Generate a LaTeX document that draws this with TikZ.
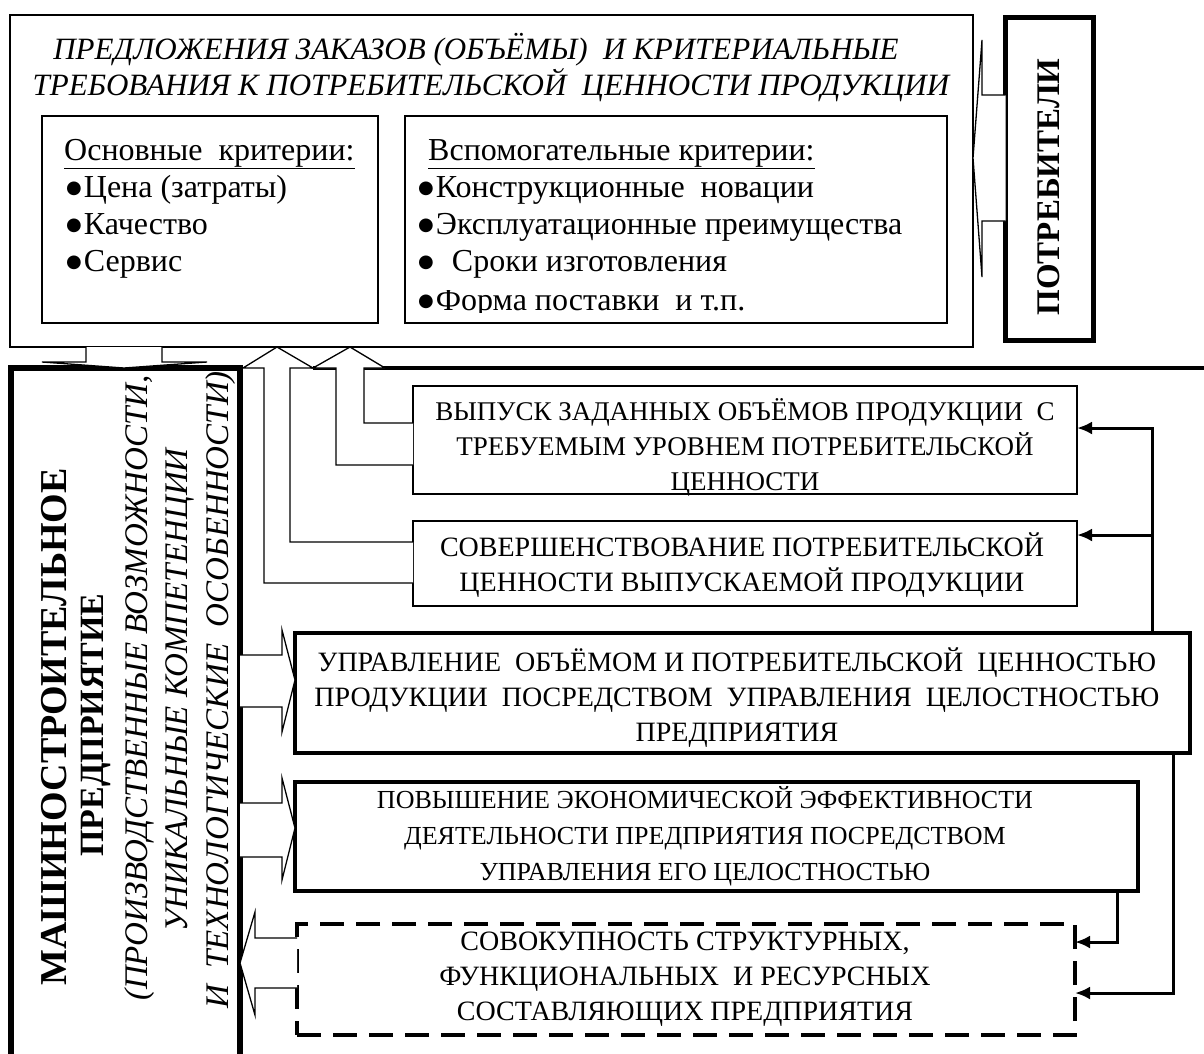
\documentclass[tikz,border=0pt]{standalone}
\usepackage{fontspec}
\setmainfont{Liberation Serif}
\newfontfamily\dejavu{DejaVu Sans}
\newcommand{\bul}{\raisebox{4pt}{\dejavu\fontsize{18}{0}\selectfont ●}\hspace{2pt}}
\usetikzlibrary{arrows.meta,calc}
\begin{document}
\begin{tikzpicture}[x=1pt,y=-1pt,
  thinbox/.style={draw, line width=1.3pt, inner sep=0pt, outer sep=0pt},
  thickbox/.style={draw, line width=4pt, inner sep=0pt, outer sep=0pt},
  dashbox/.style={draw, line width=4pt, inner sep=0pt, outer sep=0pt, dash pattern=on 24pt off 12pt},
  hollow/.style={draw, line width=1.3pt, fill=white, line join=miter},
  frame/.style={line width=4.5pt},
  conn/.style={line width=3pt, -{Latex[length=15pt,width=13pt]}},
  txt/.style={font=\fontsize{28}{35}\selectfont, align=center, inner sep=0pt},
  ltxt/.style={font=\fontsize{32}{37}\selectfont, anchor=base west, inner sep=0pt},
  vtxt/.style={rotate=90, inner sep=0pt}
]
\useasboundingbox (0,0) rectangle (1204,1053);
\fill[white] (0,0) rectangle (1204,1053);

% boxes
\node[thinbox, minimum width=963pt, minimum height=332pt] (top) at (491.5,181) {};
\node[thinbox, minimum width=336pt, minimum height=207pt] (crit1) at (210,219.5) {};
\node[thinbox, minimum width=542pt, minimum height=207pt] (crit2) at (676,219.5) {};
\node[draw, line width=5pt, inner sep=0pt, outer sep=0pt, minimum width=88pt, minimum height=323pt] (cons) at (1049.5,179) {};
\node[draw, line width=6pt, inner sep=0pt, outer sep=0pt, minimum width=229pt, minimum height=707pt] (ent) at (125.5,721.5) {};
\node[thinbox, minimum width=664pt, minimum height=108pt] (b1) at (745,440) {};
\node[thinbox, minimum width=664pt, minimum height=85pt] (b2) at (745,563.5) {};
\node[thickbox, minimum width=895pt, minimum height=120pt] (b3) at (742.5,693) {};
\node[thickbox, minimum width=843pt, minimum height=109pt] (b4) at (716.5,836.5) {};
\node[dashbox, minimum width=778pt, minimum height=111pt] (b5) at (686,979.5) {};

% frame line
\draw[frame] (313,368) -- (336,368);
\draw[frame] (364,368) -- (1204,368);

% hollow arrows
\draw[hollow] (cons.west |- 0,95) -- (982,95) -- (982,40) -- (top.east |- 0,158) -- (982,277) -- (982,221) -- (cons.west |- 0,221);
\draw[hollow] (top.south -| 86,0) -- (86,362) -- (42,362) -- (ent.north -| 124,0) -- (207,362) -- (162,362) -- (top.south -| 162,0);
\draw[hollow] (b2.west |- 0,583) -- (264,583) -- (264,368) -- (243,368) -- (top.south -| 277,0) -- (313,368) -- (290,368) -- (290,542) -- (b2.west |- 0,542);
\draw[hollow] (b1.west |- 0,465) -- (336,465) -- (336,368) -- (313,368) -- (top.south -| 350,0) -- (385,368) -- (364,368) -- (364,423) -- (b1.west |- 0,423);
\draw[hollow] (ent.east |- 0,655) -- (282,655) -- (282,630) -- (b3.west |- 0,680) -- (282,732) -- (282,707) -- (ent.east |- 0,707);
\draw[hollow] (ent.east |- 0,803) -- (282,803) -- (282,778) -- (b4.west |- 0,828) -- (282,880) -- (282,857) -- (ent.east |- 0,857);
\draw[hollow] (b5.west |- 0,938) -- (255,938) -- (255,912) -- (ent.east |- 0,963) -- (255,1015) -- (255,988) -- (b5.west |- 0,988);

% right connectors
\coordinate (j) at (1152,535);
\draw[conn] (b3.north -| j) |- (b1.east |- 0,428);
\draw[conn] (j) -- (b2.east |- j);
\draw[conn] (b3.south -| 1173,0) |- (b5.east |- 0,993);
\draw[conn] (b4.south -| 1117,0) |- (b5.east |- 0,942);

% texts top
\node[txt, font=\fontsize{31}{35}\selectfont\itshape] (t1) at (476,50) {ПРЕДЛОЖЕНИЯ ЗАКАЗОВ (ОБЪЁМЫ)\ \ И КРИТЕРИАЛЬНЫЕ};
\node[txt, font=\fontsize{31}{35}\selectfont\itshape] (t2) at (491,85) {ТРЕБОВАНИЯ К ПОТРЕБИТЕЛЬСКОЙ\ \ ЦЕННОСТИ ПРОДУКЦИИ};

\node[ltxt] (c1h) at (64,160) {\underline{Основные\ \ критерии:}};
\node[ltxt] (c1a) at (66,197) {\bul Цена (затраты)};
\node[ltxt] (c1b) at (66,234) {\bul Качество};
\node[ltxt] (c1c) at (66,271) {\bul Сервис};

\node[ltxt] (c2h) at (428,160) {\underline{Вспомогательные критерии:}};
\node[ltxt] (c2a) at (418,197) {\bul Конструкционные\ \ новации};
\node[ltxt] (c2b) at (418,234) {\bul Эксплуатационные преимущества};
\node[ltxt] (c2c) at (418,271) {\bul\ \ Сроки изготовления};
\begin{scope}
\clip (crit2.west |- 0,290) rectangle (crit2.east |- 0,312);
\node[ltxt] (c2d) at (418,310) {\bul Форма поставки\ \ и т.п.};
\end{scope}

\node[vtxt, font=\fontsize{33}{35}\selectfont\bfseries] (tcons) at (1049,187) {ПОТРЕБИТЕЛИ};

\node[vtxt, font=\fontsize{38}{35}\selectfont\bfseries] (e1) at (54,727) {МАШИНОСТРОИТЕЛЬНОЕ};
\node[vtxt, font=\fontsize{34}{35}\selectfont\bfseries] (e2) at (96,725) {ПРЕДПРИЯТИЕ};
\node[vtxt, font=\fontsize{33}{35}\selectfont\itshape] (e3) at (140,688) {(ПРОИЗВОДСТВЕННЫЕ ВОЗМОЖНОСТИ,};
\node[vtxt, font=\fontsize{33}{35}\selectfont\itshape] (e4) at (180,690) {УНИКАЛЬНЫЕ КОМПЕТЕНЦИИ};
\node[vtxt, font=\fontsize{33}{35}\selectfont\itshape] (e5) at (221,690) {И\ \ ТЕХНОЛОГИЧЕСКИЕ\ \ ОСОБЕННОСТИ)};

\node[txt, font=\fontsize{27}{35}\selectfont] (tb1) at (745,447) {ВЫПУСК ЗАДАННЫХ ОБЪЁМОВ ПРОДУКЦИИ\ \ С\\ТРЕБУЕМЫМ УРОВНЕМ ПОТРЕБИТЕЛЬСКОЙ\\ЦЕННОСТИ};
\node[txt] (tb2) at (742,565) {СОВЕРШЕНСТВОВАНИЕ ПОТРЕБИТЕЛЬСКОЙ\\ЦЕННОСТИ ВЫПУСКАЕМОЙ ПРОДУКЦИИ};
\node[txt] (tb3) at (737,698) {УПРАВЛЕНИЕ\ \ ОБЪЁМОМ И ПОТРЕБИТЕЛЬСКОЙ\ \ ЦЕННОСТЬЮ\\ПРОДУКЦИИ\ \ ПОСРЕДСТВОМ\ \ УПРАВЛЕНИЯ\ \ ЦЕЛОСТНОСТЬЮ\\ПРЕДПРИЯТИЯ};
\node[txt, font=\fontsize{26}{36}\selectfont] (tb4) at (705,836) {ПОВЫШЕНИЕ ЭКОНОМИЧЕСКОЙ ЭФФЕКТИВНОСТИ\\ДЕЯТЕЛЬНОСТИ ПРЕДПРИЯТИЯ ПОСРЕДСТВОМ\\УПРАВЛЕНИЯ ЕГО ЦЕЛОСТНОСТЬЮ};
\node[txt] (tb5) at (685,979) {СОВОКУПНОСТЬ СТРУКТУРНЫХ,\\ФУНКЦИОНАЛЬНЫХ\ \ И РЕСУРСНЫХ\\СОСТАВЛЯЮЩИХ ПРЕДПРИЯТИЯ};
\end{tikzpicture}
\end{document}
